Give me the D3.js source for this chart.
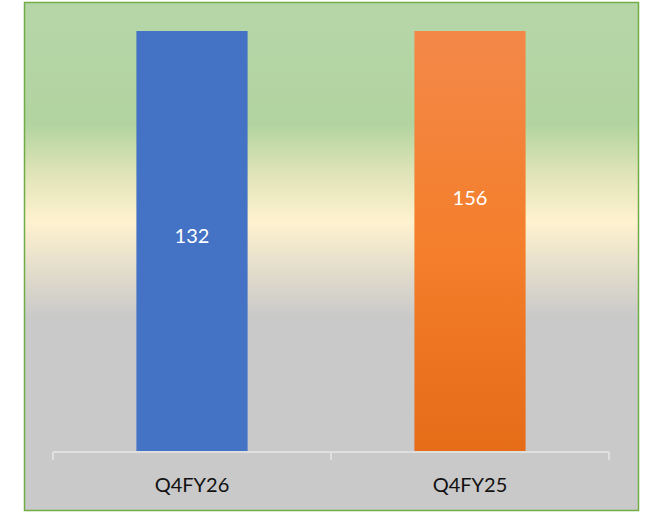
<!DOCTYPE html>
<html>
<head>
<meta charset="utf-8">
<script src="https://cdn.jsdelivr.net/npm/d3@7/dist/d3.min.js"></script>
<style>
  body { margin: 0; background: #fff; }
  text { font-family: Lato, "Open Sans", sans-serif; }
</style>
</head>
<body>
<svg id="chart" width="652" height="513"></svg>
<script>
"use strict";

// données
var categories = ["Q4FY26", "Q4FY25"]
var values = [132, 156]
var barColors = ["#4472c4", "#f47d2a"]

var svg = d3.select("#chart")
var width = 652, height = 513

var defs = svg.append("defs")

// fond dégradé vert -> crème -> gris
var bg = defs.append("linearGradient").attr("id", "bg")
  .attr("x1", 0).attr("y1", 0).attr("x2", 0).attr("y2", 1)
bg.selectAll("stop")
  .data([[0, "#b6d6a8"], [0.24, "#b2d4a0"], [0.33, "#dde3b6"], [0.43, "#fff2cf"], [0.53, "#e2dccb"], [0.62, "#c9c9c9"], [1, "#c9c9c9"]])
  .enter().append("stop")
  .attr("offset", function(d) { return d[0] })
  .attr("stop-color", function(d) { return d[1] })

var og = defs.append("linearGradient").attr("id", "orange")
  .attr("x1", 0).attr("y1", 0).attr("x2", 0).attr("y2", 1)
og.append("stop").attr("offset", 0).attr("stop-color", "#f38849")
og.append("stop").attr("offset", 0.5).attr("stop-color", "#f47f2c")
og.append("stop").attr("offset", 1).attr("stop-color", "#e66c18")

svg.append("rect")
  .attr("x", 24.5).attr("y", 2.5)
  .attr("width", 614).attr("height", 508)
  .attr("fill", "url(#bg)")
  .attr("stroke", "#70ad47").attr("stroke-width", 1.5)

var margin = { left: 53, right: 43, top: 31, bottom: 62 }

var x = d3.scaleBand()
  .domain(categories)
  .range([margin.left, width - margin.right])
  .paddingInner(0.6).paddingOuter(0.3)

// colonnes 100 % : chaque barre remplit la hauteur
var y = d3.scaleLinear().domain([0, 1]).range([height - margin.bottom, margin.top])

var bars = svg.append("g").selectAll("rect")
  .data(values)
  .enter().append("rect")
  .attr("x", function(d, i) { return x(categories[i]) })
  .attr("width", x.bandwidth())
  .attr("y", y(1))
  .attr("height", y(0) - y(1))
  .attr("fill", function(d, i) { return i === 1 ? "url(#orange)" : barColors[i] })

// étiquettes de valeur (positions déplacées comme dans l'original)
var labelShift = [-5, -43]
svg.append("g").selectAll("text")
  .data(values)
  .enter().append("text")
  .attr("x", function(d, i) { return x(categories[i]) + x.bandwidth() / 2 })
  .attr("y", function(d, i) { return y(0.5) + labelShift[i] })
  .attr("dy", "0.35em")
  .attr("text-anchor", "middle")
  .attr("fill", "#fff")
  .style("font-size", "20px")
  .text(function(d) { return d })

// axe des x
var axisX = d3.scaleBand().domain(categories).range([margin.left, width - margin.right])
var axis = svg.append("g")
  .attr("transform", "translate(0," + (y(0) + 1) + ")")
axis.append("line")
  .attr("x1", margin.left).attr("x2", width - margin.right)
  .attr("stroke", "#e6e6e6").attr("stroke-width", 1.5)
axis.selectAll("line.tick")
  .data(d3.range(categories.length + 1))
  .enter().append("line")
  .attr("class", "tick")
  .attr("x1", function(i) { return margin.left + i * axisX.step() })
  .attr("x2", function(i) { return margin.left + i * axisX.step() })
  .attr("y1", 0).attr("y2", 8)
  .attr("stroke", "#e6e6e6").attr("stroke-width", 1.5)
axis.selectAll("text")
  .data(categories)
  .enter().append("text")
  .attr("x", function(d) { return x(d) + x.bandwidth() / 2 })
  .attr("y", 33)
  .attr("dy", "0.35em")
  .attr("text-anchor", "middle")
  .attr("fill", "#111")
  .style("font-size", "20px")
  .text(function(d) { return d })
</script>
</body>
</html>
